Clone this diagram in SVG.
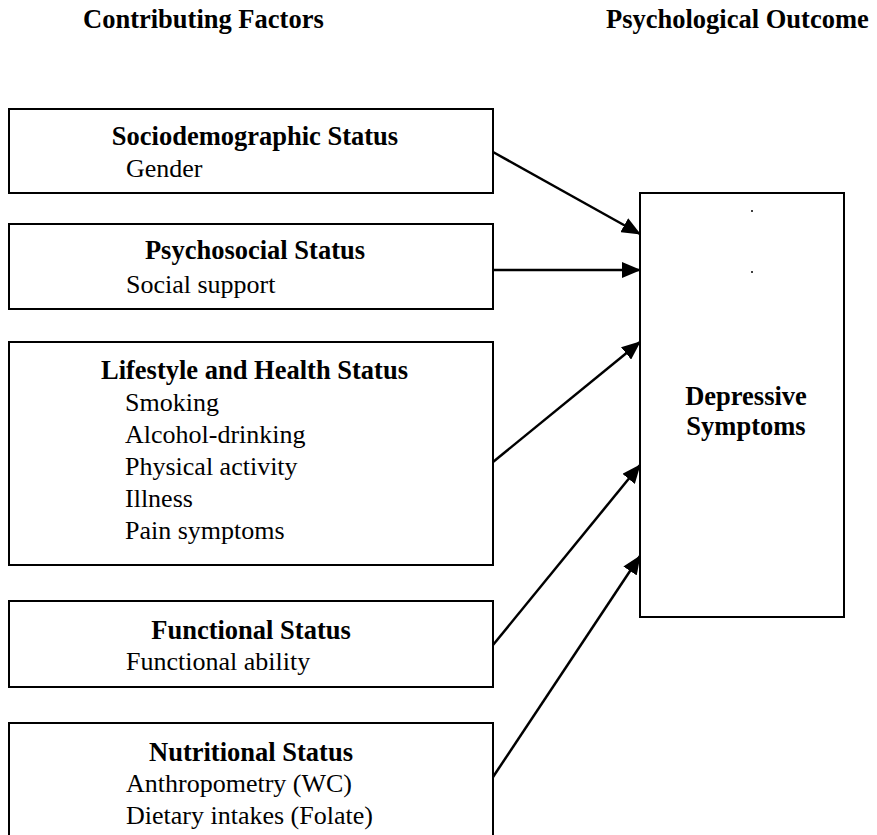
<svg xmlns="http://www.w3.org/2000/svg" width="877" height="835" viewBox="0 0 877 835">
<defs>
<style>
.box{fill:#fff;stroke:#000;stroke-width:2}
.h{font-family:"Liberation Serif","Times New Roman",serif;font-weight:bold;font-size:26.5px;fill:#000}
.t{font-family:"Liberation Serif","Times New Roman",serif;font-size:26px;fill:#000}
.c{stroke:#000;stroke-width:2.5;fill:none;marker-end:url(#ah)}
</style>
<marker id="ah" viewBox="0 0 19 16" refX="18" refY="8" markerWidth="19" markerHeight="16" markerUnits="userSpaceOnUse" orient="auto">
<path d="M0,0 L19,8 L0,16 Z" fill="#000"/>
</marker>
</defs>
<rect width="877" height="835" fill="#fff"/>
<g id="headers">
<text class="h" x="606" y="27.5">Psychological Outcome</text>
<text class="h" x="83" y="28">Contributing Factors</text>
</g>
<g id="sociodemographic">
<rect class="box" x="9" y="109" width="484" height="84"/>
<text class="h" x="255" y="145" text-anchor="middle">Sociodemographic Status</text>
<text class="t" x="126" y="177">Gender</text>
</g>
<g id="psychosocial">
<rect class="box" x="9" y="224" width="484" height="85"/>
<text class="h" x="255" y="259" text-anchor="middle">Psychosocial Status</text>
<text class="t" x="126" y="293">Social support</text>
</g>
<g id="lifestyle">
<rect class="box" x="9" y="342" width="484" height="223"/>
<text class="h" x="254.5" y="379" text-anchor="middle">Lifestyle and Health Status</text>
<text class="t" x="125" y="411">Smoking</text>
<text class="t" x="125" y="443">Alcohol-drinking</text>
<text class="t" x="125" y="475">Physical activity</text>
<text class="t" x="125" y="507">Illness</text>
<text class="t" x="125" y="539">Pain symptoms</text>
</g>
<g id="functional">
<rect class="box" x="9" y="601" width="484" height="86"/>
<text class="h" x="251" y="639" text-anchor="middle">Functional Status</text>
<text class="t" x="126" y="670">Functional ability</text>
</g>
<g id="nutritional">
<rect class="box" x="9" y="723" width="484" height="130"/>
<text class="h" x="251" y="761" text-anchor="middle">Nutritional Status</text>
<text class="t" x="126" y="792">Anthropometry (WC)</text>
<text class="t" x="126" y="824">Dietary intakes (Folate)</text>
</g>
<g id="depressive">
<rect class="box" x="640" y="193" width="204" height="424"/>
<circle cx="752" cy="211" r="1" fill="#000"/>
<circle cx="752" cy="272" r="1" fill="#000"/>
<text class="h" x="746" y="405" text-anchor="middle">Depressive</text>
<text class="h" x="746" y="435" text-anchor="middle">Symptoms</text>
</g>
<g id="connectors">
<line class="c" x1="493" y1="152" x2="640" y2="234"/>
<line class="c" x1="493" y1="270" x2="640" y2="270"/>
<line class="c" x1="493" y1="462" x2="640" y2="342"/>
<line class="c" x1="493" y1="645" x2="640" y2="465"/>
<line class="c" x1="493" y1="777" x2="640" y2="556"/>
</g>
</svg>
